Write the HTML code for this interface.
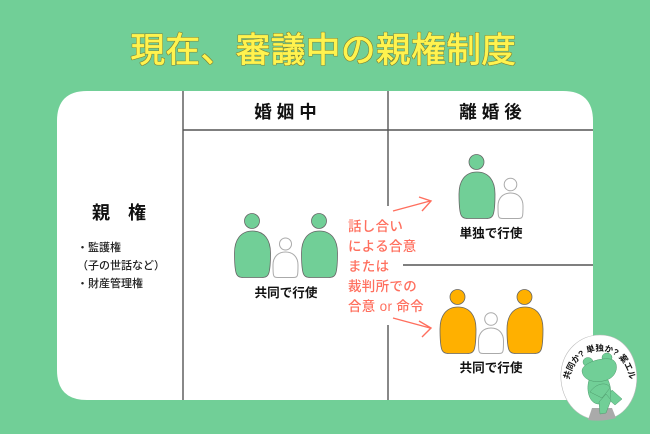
<!DOCTYPE html>
<html><head><meta charset="utf-8"><style>
html,body{margin:0;padding:0;width:650px;height:434px;overflow:hidden;background:#71cf97}
svg{display:block}
text{font-family:"Liberation Sans","Noto Sans CJK JP",sans-serif}
.p{stroke:#666;stroke-width:.8}
.c{fill:#fff;stroke:#aaa;stroke-width:1}
.l{fill:none;stroke:#555;stroke-width:1.4}
.a{fill:none;stroke:#ff6f5e;stroke-width:1.4}
.s{fill:#ff6f5e;font-size:13.500px;letter-spacing:.3px;font-weight:500}
.k{fill:#111;font-size:12.600px;font-weight:700}
.h{fill:#111;font-size:17.500px;font-weight:700;letter-spacing:5px}
.m{fill:#222;font-size:11px;font-weight:500}
</style></head><body>
<svg width="650" height="434" viewBox="0 0 650 434" xmlns="http://www.w3.org/2000/svg">
<defs>
<path id="B" d="M18 0C30 0 36 9 36 22C36 30 36 36 34.500 41.500C33.500 45.500 31 46.500 27 46.500H9C5 46.500 2.500 45.500 1.500 41.500C0 36 0 30 0 22C0 9 6 0 18 0Z"/>
<path id="C" d="M12.500 0C20 0 25 5 25 13C25 18 25 21 24.500 23C24 25 23 25.500 20 25.500H5C2 25.500 1 25 .5 23C0 21 0 18 0 13C0 5 5 0 12.500 0Z"/>
<path id="T" d="M567 396C569 360 585 351 600 351C615 351 630 360 632 396"/>
<filter id="o" x="-5%" y="-20%" width="110%" height="140%">
<feMorphology in="SourceAlpha" operator="dilate" radius=".7" result="d"/>
<feFlood flood-color="#7d8030"/><feComposite in2="d" operator="in" result="e"/>
<feMerge><feMergeNode in="e"/><feMergeNode in="SourceGraphic"/></feMerge>
</filter>
</defs>
<text x="323.500" y="62" text-anchor="middle" font-size="34.500" letter-spacing=".6" fill="#fff34f" stroke="#fff34f" stroke-width=".7" stroke-linejoin="round" filter="url(#o)" style="font-family:'WenQuanYi Zen Hei','Noto Sans CJK JP',sans-serif">現在、審議中の親権制度</text>

<path d="M87 91H563Q593 91 593 121V400H87Q57 400 57 370V121Q57 91 87 91Z" fill="#fff"/>
<path class="l" d="M183 91V400M183 130H593M388 91V206M388 325V400M403 265H593"/>

<text class="h" x="288" y="118" text-anchor="middle">婚姻中</text>
<text class="h" x="493" y="118" text-anchor="middle">離婚後</text>
<text x="119" y="219" text-anchor="middle" font-size="18" font-weight="700" fill="#111" xml:space="preserve">親　権</text>
<text class="m" x="77" y="251">・監護権</text>
<text class="m" x="77" y="269">（子の世話など）</text>
<text class="m" x="77" y="287">・財産管理権</text>

<!-- left group -->
<g fill="#71cf97" class="p">
<circle cx="252" cy="221" r="7.500"/><use href="#B" x="234.500" y="231"/>
<circle cx="319" cy="221" r="7.500"/><use href="#B" x="301.500" y="231"/>
</g>
<circle class="c" cx="285.500" cy="244" r="6"/><use class="c" href="#C" x="273" y="252"/>
<text class="k" x="286" y="297" text-anchor="middle">共同で行使</text>

<!-- top right group -->
<g fill="#71cf97" class="p">
<circle cx="476.500" cy="162" r="7.500"/><use href="#B" x="459" y="172"/>
</g>
<circle class="c" cx="510.500" cy="184.500" r="6.300"/><use class="c" href="#C" x="498" y="193"/>
<text class="k" x="491" y="237.500" text-anchor="middle">単独で行使</text>

<!-- bottom right group -->
<g fill="#ffb000" class="p">
<circle cx="457.500" cy="297" r="7.500"/><use href="#B" x="440" y="307"/>
<circle cx="524.500" cy="297" r="7.500"/><use href="#B" x="507" y="307"/>
</g>
<circle class="c" cx="491" cy="319" r="6.300"/><use class="c" href="#C" x="478.500" y="328"/>
<text class="k" x="491" y="372" text-anchor="middle">共同で行使</text>

<!-- salmon text -->
<text class="s" x="348" y="231">話し合い</text>
<text class="s" x="348" y="251">による合意</text>
<text class="s" x="348" y="271">または</text>
<text class="s" x="348" y="291">裁判所での</text>
<text class="s" x="348" y="311">合意 or 命令</text>
<path class="a" d="M393 211L430 201M419 197L431 201L422 211"/>
<path class="a" d="M393 318L430 328M419 321L431 328L422 337"/>

<!-- frog badge -->
<path d="M600 335C620 335 634 350 636.500 372C639 398 624 420 600 420C576 420 559 398 561 372C563 350 580 335 600 335Z" fill="#fff" stroke="#bbb" stroke-width=".6"/>
<path d="M588 420L592 408H612L616 418Q602 422 588 420Z" fill="#aaa"/>
<g fill="#71cf97" stroke="#4f9a6d" stroke-width=".5">
<path d="M612 390L622 399L615 405L607 398Z"/>
<path d="M589 380C586 390 589 403 598 404H606C612 402 612 388 608 380Z"/>
<path d="M599 402L606 394L611 400L606 413L600 414Z"/>
<ellipse cx="588" cy="362" rx="5" ry="4.500"/><ellipse cx="607" cy="357.500" rx="5" ry="4.500"/>
<path d="M582 371C582 362 606 356 613 360C619 364 617 375 609 379C599 384 583 382 582 371Z"/>
<path d="M590 392C597 382 608 382 610 388L602 398Z"/>
</g>
<text font-size="8.500" font-weight="700" fill="#111"><textPath href="#T" startOffset="50%" text-anchor="middle">共同か? 単独か? 案エル</textPath></text>
</svg>
</body></html>
